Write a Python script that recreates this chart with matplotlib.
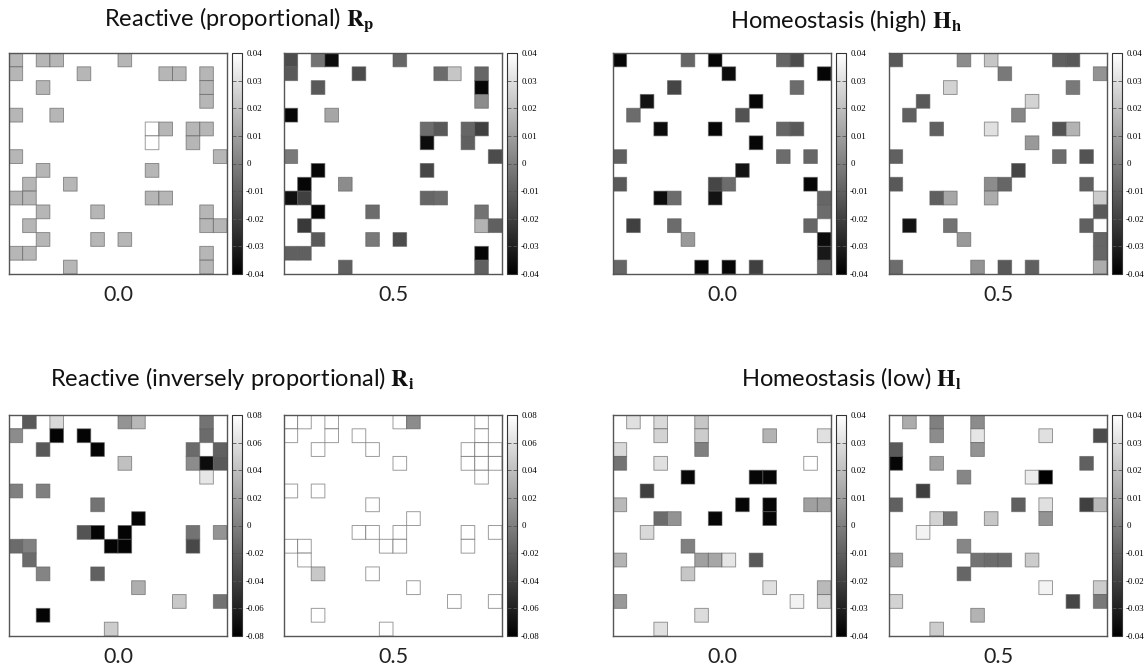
#!/usr/bin/env python3
# -*- coding: utf-8 -*-
"""
Grey-scale 16x16 cell maps for four control strategies, each at
noise level 0.0 and 0.5, with their colour bars.
"""
import numpy as np
import matplotlib
matplotlib.use("Agg")
import matplotlib.pyplot as plt

# ---- data: (row, col, value), row 0 is the top row ----
RP_00 = [(0, 0, .017), (0, 2, .017), (0, 3, .017), (0, 8, .017),
         (1, 0, .017), (1, 5, .017), (1, 11, .017), (1, 12, .017),
         (1, 14, .017), (2, 2, .017), (2, 14, .017), (3, 14, .017),
         (4, 0, .017), (4, 3, .017), (5, 10, .04), (5, 11, .017),
         (5, 13, .017), (5, 14, .017), (6, 10, .04), (6, 13, .017),
         (7, 0, .017), (7, 15, .017), (8, 2, .017), (8, 10, .017),
         (9, 1, .017), (9, 4, .017), (10, 0, .017), (10, 1, .017),
         (10, 10, .017), (10, 11, .017), (11, 2, .017), (11, 6, .017),
         (11, 14, .017), (12, 1, .017), (12, 14, .017), (12, 15, .017),
         (13, 2, .017), (13, 6, .017), (13, 8, .017), (14, 0, .017),
         (14, 1, .017), (14, 14, .017), (15, 4, .017), (15, 14, .017)]

RP_05 = [(0, 0, -.016), (0, 2, -.004), (0, 3, -.036), (0, 8, -.008),
         (1, 0, -.012), (1, 5, -.016), (1, 11, -.006), (1, 12, .022),
         (1, 14, -.008), (2, 2, -.012), (2, 14, -.038), (3, 14, .004),
         (4, 0, -.038), (4, 3, .012), (5, 10, -.006), (5, 11, -.012),
         (5, 13, -.008), (5, 14, -.020), (6, 10, -.036), (6, 13, -.010),
         (7, 0, -.002), (7, 15, -.016), (8, 2, -.038), (8, 10, -.018),
         (9, 1, -.038), (9, 4, .004), (10, 0, -.035), (10, 1, -.020),
         (10, 10, -.008), (10, 11, -.006), (11, 2, -.038), (11, 6, -.006),
         (11, 14, -.004), (12, 1, -.022), (12, 14, .016), (12, 15, -.010),
         (13, 2, -.012), (13, 6, -.002), (13, 8, -.016), (14, 0, -.010),
         (14, 1, -.010), (14, 14, -.038), (15, 4, -.010), (15, 14, -.010)]

HH_00 = [(0, 0, -.038), (0, 5, -.008), (0, 7, -.038), (0, 12, -.008),
         (0, 13, -.016), (1, 8, -.036), (1, 15, -.038), (2, 4, -.018),
         (2, 13, -.006), (3, 2, -.034), (3, 10, -.038), (4, 1, -.006),
         (4, 9, -.014), (5, 3, -.036), (5, 7, -.038), (5, 12, -.008),
         (5, 13, -.012), (6, 10, -.038), (7, 0, -.010), (7, 12, -.006),
         (7, 14, -.008), (8, 9, -.034), (9, 0, -.012), (9, 7, -.018),
         (9, 8, -.006), (9, 14, -.038), (10, 3, -.036), (10, 4, -.006),
         (10, 7, -.034), (10, 15, -.008), (11, 15, -.006), (12, 1, -.020),
         (12, 4, -.006), (12, 14, -.008), (12, 15, .040), (13, 5, .008),
         (13, 15, -.036), (14, 15, -.032), (15, 0, -.008), (15, 6, -.038),
         (15, 8, -.038), (15, 10, -.020), (15, 15, -.006)]

HH_05 = [(0, 0, -.012), (0, 5, .004), (0, 7, .022), (0, 12, -.010),
         (0, 13, -.012), (1, 8, -.002), (1, 15, .006), (2, 4, .026),
         (2, 13, -.002), (3, 2, -.012), (3, 10, .026), (4, 1, -.010),
         (4, 9, .002), (5, 3, -.010), (5, 7, .030), (5, 12, -.014),
         (5, 13, .016), (6, 10, .008), (7, 0, -.010), (7, 12, -.006),
         (7, 14, -.014), (8, 9, -.018), (9, 0, -.012), (9, 7, .004),
         (9, 8, -.008), (9, 14, -.010), (10, 3, -.010), (10, 4, .012),
         (10, 7, .014), (10, 15, .024), (11, 15, -.012), (12, 1, -.034),
         (12, 4, -.004), (12, 14, -.010), (12, 15, .040), (13, 5, .008),
         (13, 15, -.008), (14, 15, -.008), (15, 0, -.006), (15, 6, .006),
         (15, 8, -.012), (15, 10, -.010), (15, 15, .014)]

RI_00 = [(0, 0, .080), (0, 1, -.024), (0, 3, .056), (0, 8, .013),
         (0, 9, .035), (0, 14, -.008), (1, 0, .008), (1, 3, -.077),
         (1, 5, -.077), (1, 14, -.013), (2, 2, -.024), (2, 6, -.077),
         (2, 13, -.013), (2, 14, .080), (2, 15, -.019), (3, 8, .040),
         (3, 13, .008), (3, 14, -.072), (3, 15, -.024), (4, 14, .064),
         (5, 0, .000), (5, 2, .000), (6, 6, -.008), (7, 9, -.077),
         (8, 5, -.027), (8, 6, -.077), (8, 8, -.077), (8, 13, -.008),
         (8, 15, .013), (9, 0, -.013), (9, 1, .000), (9, 7, -.077),
         (9, 8, -.077), (9, 13, -.035), (10, 1, -.013), (11, 2, .003),
         (11, 6, -.019), (12, 9, .029), (13, 12, .045), (13, 15, -.008),
         (14, 2, -.077), (15, 7, .048)]

RI_05 = [(0, 0, .08), (0, 1, .08), (0, 3, .08), (0, 8, .08),
         (0, 9, .008), (0, 14, .08), (1, 0, .08), (1, 3, .08),
         (1, 5, .08), (1, 14, .08), (2, 2, .08), (2, 6, .08),
         (2, 13, .08), (2, 14, .08), (2, 15, .08), (3, 8, .08),
         (3, 13, .08), (3, 14, .08), (3, 15, .08), (4, 14, .08),
         (5, 0, .08), (5, 2, .08), (6, 6, .08), (7, 9, .08),
         (8, 5, .08), (8, 6, .08), (8, 8, .08), (8, 13, .08),
         (8, 15, .08), (9, 0, .08), (9, 1, .08), (9, 7, .08),
         (9, 8, .08), (9, 13, .08), (10, 1, .08), (11, 2, .045),
         (11, 6, .08), (12, 9, .08), (13, 12, .08), (13, 15, .08),
         (14, 2, .08), (15, 7, .08)]

HL_00 = [(0, 1, .030), (0, 3, .028), (0, 6, .022), (1, 3, .026),
         (1, 6, .024), (1, 11, .016), (1, 15, .030), (2, 0, .028),
         (2, 6, .000), (3, 0, -.004), (3, 3, .030), (3, 14, .040),
         (4, 5, -.038), (4, 10, -.038), (4, 11, -.038), (5, 2, -.020),
         (6, 0, .018), (6, 9, -.038), (6, 11, -.038), (6, 14, .010),
         (6, 15, .010), (7, 3, -.006), (7, 4, .006), (7, 7, -.038),
         (7, 11, -.038), (8, 2, .028), (9, 5, .000), (10, 0, .016),
         (10, 6, .010), (10, 7, .012), (10, 8, .032), (10, 10, -.012),
         (11, 5, .022), (12, 11, .030), (12, 15, .018), (13, 0, .008),
         (13, 13, .036), (13, 15, .026), (14, 6, .029), (15, 3, .030)]

HL_05 = [(0, 1, .014), (0, 3, .000), (0, 6, .004), (1, 3, .004),
         (1, 6, .032), (1, 11, .030), (1, 15, -.016), (2, 0, -.012),
         (2, 6, .006), (3, 0, -.038), (3, 3, .010), (3, 14, -.010),
         (4, 5, .002), (4, 10, .034), (4, 11, -.040), (5, 2, -.020),
         (6, 0, -.010), (6, 9, -.010), (6, 11, .030), (6, 14, -.020),
         (6, 15, .018), (7, 3, .026), (7, 4, -.004), (7, 7, .022),
         (7, 11, .006), (8, 2, .036), (9, 5, .002), (10, 0, .012),
         (10, 6, -.004), (10, 7, -.006), (10, 8, -.006), (10, 10, .024),
         (11, 5, -.008), (12, 11, .036), (12, 15, .024), (13, 0, .026),
         (13, 13, -.018), (13, 15, -.002), (14, 6, .016), (15, 3, .024)]

NOISE_LABELS = ["0.0", "0.5"]
TITLES = ["Reactive (proportional) $\\mathbf{R}_\\mathbf{p}$",
          "Homeostasis (high) $\\mathbf{H}_\\mathbf{h}$",
          "Reactive (inversely proportional) $\\mathbf{R}_\\mathbf{i}$",
          "Homeostasis (low) $\\mathbf{H}_\\mathbf{l}$"]
TICKS_04 = [0.04, 0.03, 0.02, 0.01, 0, -0.01, -0.02, -0.03, -0.04]
TICKS_08 = [0.08, 0.06, 0.04, 0.02, 0, -0.02, -0.04, -0.06, -0.08]
NGRID = 16


def to_grid(cells):
    grid = np.full((NGRID, NGRID), np.nan)
    for r, c, v in cells:
        grid[r, c] = v
    return np.ma.masked_invalid(grid)


def tick_text(t):
    if t == 0:
        return "0"
    return "%.2f" % t


def main():
    W, H = 1148, 669
    plt.rcParams['font.family'] = ['Lato', 'DejaVu Sans']
    plt.rcParams['mathtext.fontset'] = 'stix'

    fig = plt.figure(figsize=(W / 100, H / 100), dpi=100)

    def px_axes(x0, y0, x1, y1):
        return fig.add_axes([x0 / W, 1 - y1 / H, (x1 - x0) / W, (y1 - y0) / H])

    AxX = [9, 284, 613, 889]
    AxW = 218
    RowY = [(53, 274), (415, 636)]
    CbGap, CbW = 5, 10
    LabelDy = 21
    TitlePos = [(239, 20), (846, 20), (232, 378), (851, 378)]

    groups = [((RP_00, RP_05), TICKS_04, 0, 0),
              ((HH_00, HH_05), TICKS_04, 0, 2),
              ((RI_00, RI_05), TICKS_08, 1, 0),
              ((HL_00, HL_05), TICKS_04, 1, 2)]

    for gi, (panels, ticks, row, col0) in enumerate(groups):
        vmax = max(ticks)
        y0, y1 = RowY[row]
        for k, cells in enumerate(panels):
            x0 = AxX[col0 + k]
            ax = px_axes(x0, y0, x0 + AxW, y1)
            pc = ax.pcolor(np.arange(NGRID + 1), np.arange(NGRID + 1),
                           to_grid(cells), cmap='gray', vmin=-vmax, vmax=vmax,
                           edgecolors=(0.35, 0.35, 0.35, 0.6), linewidth=0.7)
            ax.set_xlim(0, NGRID)
            ax.set_ylim(NGRID, 0)
            ax.set_xticks([])
            ax.set_yticks([])
            for s in ax.spines.values():
                s.set_color('#555555')
                s.set_linewidth(1.0)

            cax = px_axes(x0 + AxW + CbGap, y0, x0 + AxW + CbGap + CbW, y1)
            cb = fig.colorbar(pc, cax=cax, ticks=ticks)
            cb.ax.set_yticklabels([tick_text(t) for t in ticks],
                                  family='Liberation Serif', fontsize=6.4)
            cb.ax.tick_params(direction='in', left=True, right=True,
                              length=3, width=0.6, color='#555555', pad=3)
            cb.outline.set_edgecolor('#333333')
            cb.outline.set_linewidth(0.8)

            fig.text((x0 + AxW / 2) / W, 1 - (y1 + LabelDy) / H,
                     NOISE_LABELS[k], ha='center', va='center',
                     fontsize=15.5, color='#222222')

        tx, ty = TitlePos[gi]
        fig.text(tx / W, 1 - ty / H, TITLES[gi], ha='center', va='center',
                 fontsize=17, color='#111111')

    fig.savefig("out.png", dpi=100)


if __name__ == "__main__":
    main()
